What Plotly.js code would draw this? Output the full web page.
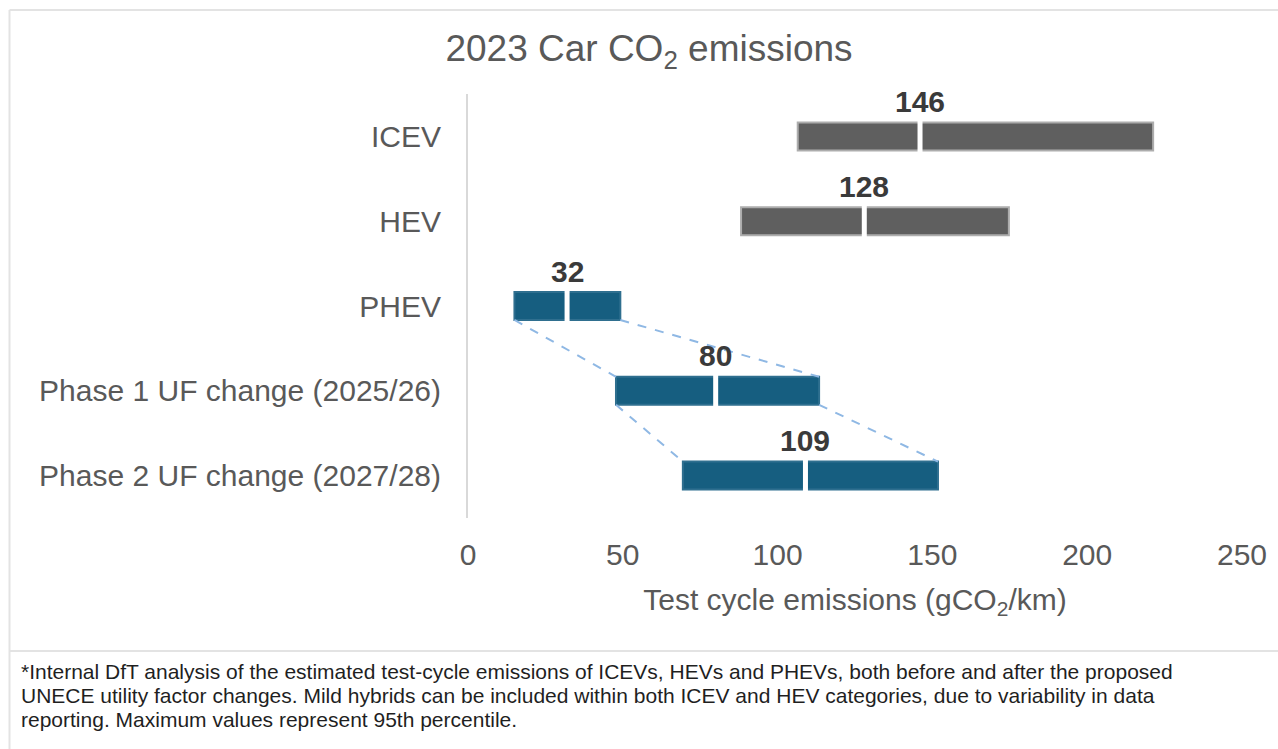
<!DOCTYPE html>
<html>
<head>
<meta charset="utf-8">
<script src="https://cdn.plot.ly/plotly-3.0.1.min.js"></script>
<style>html,body{margin:0;padding:0;background:#fff;}#chart{width:1278px;height:749px;}</style>
</head>
<body>
<div id="chart"></div>
<script>
// ---- data ----
const categories = ["ICEV", "HEV", "PHEV", "Phase 1 UF change (2025/26)", "Phase 2 UF change (2027/28)"];
const kinds = ["conventional", "conventional", "plug-in", "plug-in", "plug-in"];
const minValues = [106.5, 88.2, 15.0, 47.8, 69.4];
const medianValues = [146, 128, 32, 80, 109];
const maxValues = [221.3, 174.7, 49.2, 113.4, 151.8];
const connections = [[2, 3], [3, 4]];
const xTicks = [0, 50, 100, 150, 200, 250];
const titleText = "2023 Car CO<sub>2</sub> emissions";
const xTitleText = "Test cycle emissions (gCO<sub>2</sub>/km)";
const footnoteLines = [
  "*Internal DfT analysis of the estimated test-cycle emissions of ICEVs, HEVs and PHEVs, both before and after the proposed",
  "UNECE utility factor changes. Mild hybrids can be included within both ICEV and HEV categories, due to variability in data",
  "reporting. Maximum values represent 95th percentile."
];

// ---- layout geometry ----
const W = 1278, H = 749;
const M = {l: 468, r: 36, t: 94, b: 231};
const PW = W - M.l - M.r, PH = H - M.t - M.b;
const px2x = p => (p - M.l) / PW;
const py2y = p => (H - M.b - p) / PH;
const FONT = "Liberation Sans, Arial, sans-serif";
const kindStyle = {
  "conventional": {fill: "#5f5f5f", line: "#adadad"},
  "plug-in": {fill: "#165e80", line: "#2f6f8f"}
};
const BAR_W = 0.33;

const idx = categories.map((c, i) => i);
const traces = [];
["conventional", "plug-in"].forEach(k => {
  const ii = idx.filter(i => kinds[i] === k);
  traces.push({
    type: "bar", orientation: "h",
    y: ii, base: ii.map(i => minValues[i]), x: ii.map(i => maxValues[i] - minValues[i]),
    width: BAR_W,
    marker: {color: kindStyle[k].fill, line: {color: kindStyle[k].line, width: 2}},
    hoverinfo: "skip", showlegend: false
  });
});
connections.forEach(([a, b]) => {
  [minValues, maxValues].forEach(arr => {
    traces.push({
      type: "scatter", mode: "lines",
      x: [arr[a], arr[b]], y: [a + BAR_W / 2, b - BAR_W / 2],
      line: {color: "#8fb8e4", width: 2, dash: "dash"},
      hoverinfo: "skip", showlegend: false
    });
  });
});

const shapes = [];
idx.forEach(i => {
  shapes.push({type: "line", xref: "x", yref: "y", x0: medianValues[i], x1: medianValues[i],
    y0: i - 0.22, y1: i + 0.22, line: {color: "#ffffff", width: 5}, layer: "above"});
});
// frame
const frame = {color: "#e3e3e3", width: 2};
shapes.push({type: "line", xref: "paper", yref: "paper", x0: px2x(9.5), x1: px2x(9.5), y0: py2y(10), y1: py2y(749), line: frame});
shapes.push({type: "line", xref: "paper", yref: "paper", x0: px2x(9.5), x1: px2x(1278), y0: py2y(10), y1: py2y(10), line: frame});
shapes.push({type: "line", xref: "paper", yref: "paper", x0: px2x(9.5), x1: px2x(1278), y0: py2y(651), y1: py2y(651), line: frame});

const annotations = [];
idx.forEach(i => {
  annotations.push({x: medianValues[i], y: i, xref: "x", yref: "y", text: "<b>" + medianValues[i] + "</b>",
    showarrow: false, yshift: 35, xanchor: "center", yanchor: "middle",
    font: {family: FONT, size: 30, color: "#3a3a3a"}});
});
const footY = [671, 695, 719];
footnoteLines.forEach((t, j) => {
  annotations.push({x: px2x(19), y: py2y(footY[j]), xref: "paper", yref: "paper", text: t,
    showarrow: false, xanchor: "left", yanchor: "middle",
    font: {family: FONT, size: 21, color: "#1f1f1f"}});
});

const layout = {
  width: W, height: H,
  margin: M,
  paper_bgcolor: "#ffffff", plot_bgcolor: "#ffffff",
  font: {family: FONT, color: "#595959"},
  title: {text: titleText, x: 649 / W, xref: "container", xanchor: "center",
    y: 1 - 48 / H, yref: "container", yanchor: "middle",
    font: {family: FONT, size: 37, color: "#595959"}},
  xaxis: {range: [0, 250], tickvals: xTicks, ticktext: xTicks.map(String),
    showgrid: false, zeroline: false, showline: false, ticks: "",
    ticklabelstandoff: 16,
    tickfont: {family: FONT, size: 30, color: "#595959"},
    title: {text: xTitleText, standoff: 18, font: {family: FONT, size: 30, color: "#595959"}}},
  yaxis: {range: [4.5, -0.5], tickvals: idx, ticktext: categories,
    showgrid: false, zeroline: false, showline: true, linecolor: "#d9d9d9", linewidth: 2,
    ticks: "", ticklabelstandoff: 19,
    tickfont: {family: FONT, size: 30, color: "#595959"}},
  shapes: shapes,
  annotations: annotations,
  bargap: 0
};
Plotly.newPlot("chart", traces, layout, {displayModeBar: false, staticPlot: true});
</script>
</body>
</html>
